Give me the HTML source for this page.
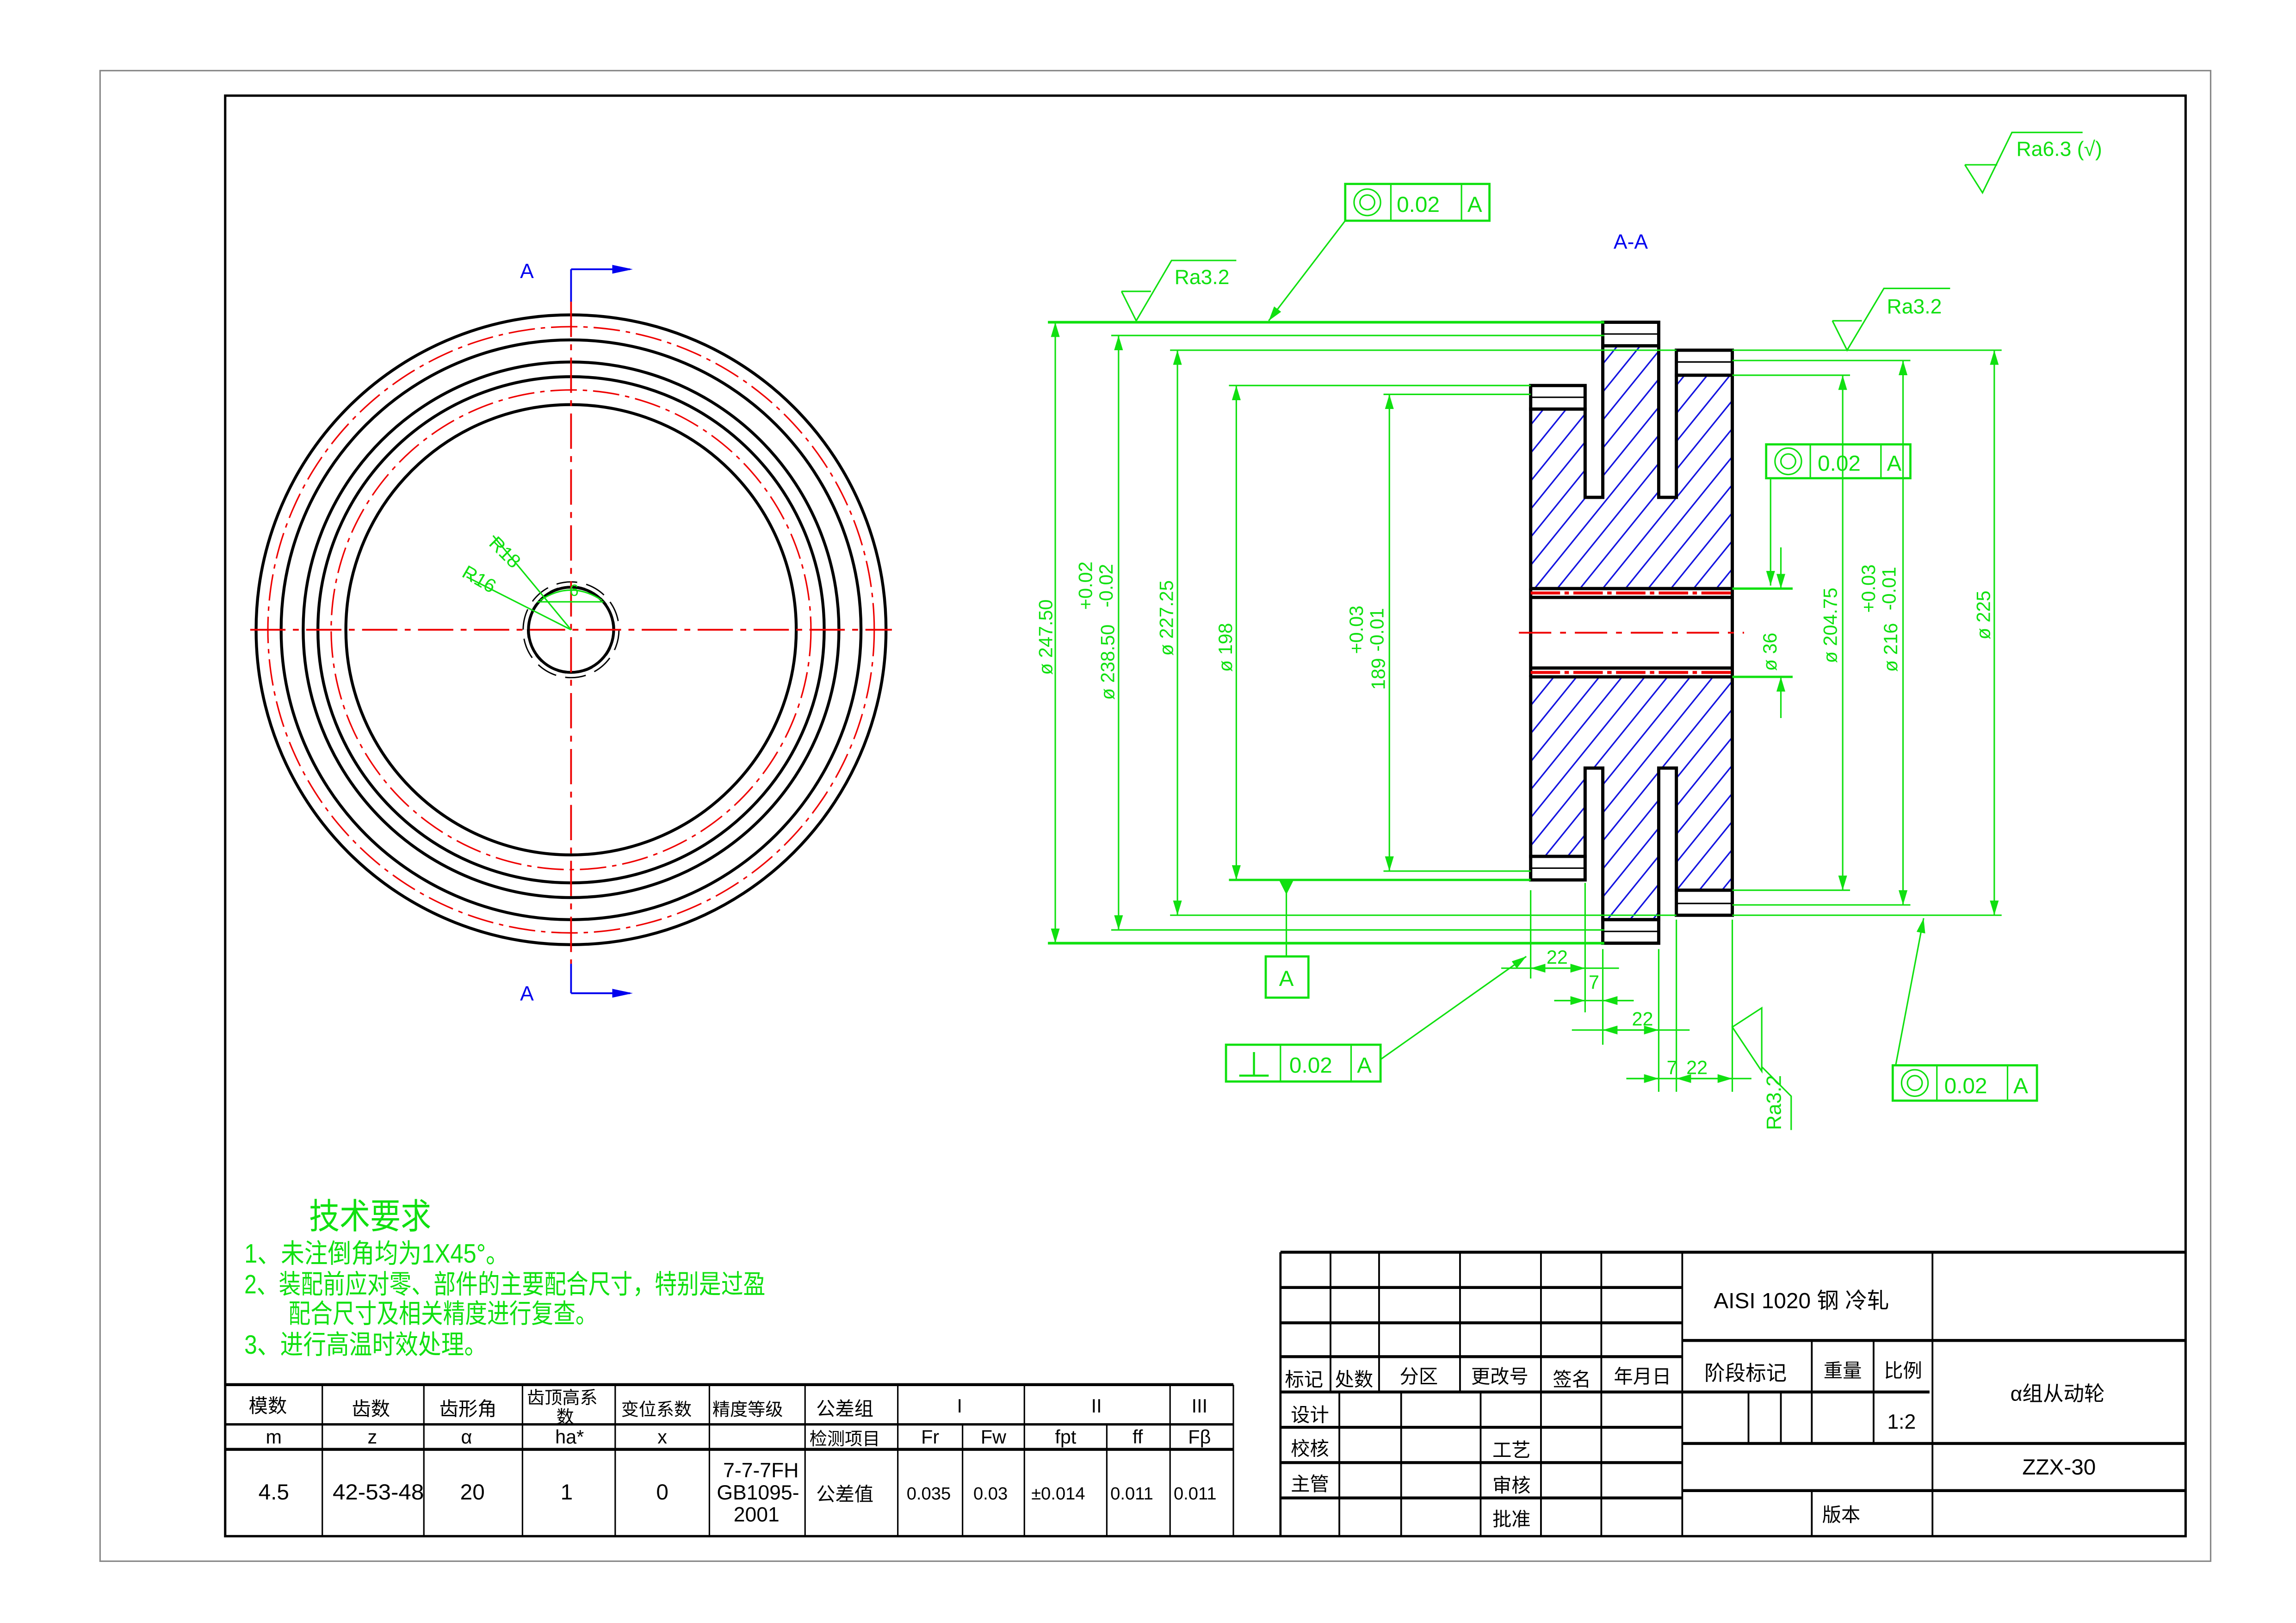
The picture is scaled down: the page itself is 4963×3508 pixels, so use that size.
<!DOCTYPE html>
<html><head><meta charset="utf-8"><style>
html,body{margin:0;padding:0;background:#fff}
svg{display:block}
text{font-family:"Liberation Sans","Noto Sans CJK SC",sans-serif}
</style></head><body>
<svg width="4963" height="3508" viewBox="0 0 1560 1103" preserveAspectRatio="none" xmlns="http://www.w3.org/2000/svg">
<defs>
<marker id="ar" viewBox="0 0 10 6" refX="10" refY="3" markerWidth="10" markerHeight="6" orient="auto-start-reverse" markerUnits="userSpaceOnUse"><path d="M0,0 L10,3 L0,6 Z" fill="#10e010"/></marker>
<pattern id="h" patternUnits="userSpaceOnUse" width="12" height="12" patternTransform="rotate(-51)"><line x1="0" y1="6" x2="12" y2="6" stroke="#1010e0" stroke-width="1"/></pattern>
</defs>
<rect x="68" y="48" width="1434" height="1013" fill="none" stroke="#888" stroke-width="1"/>
<rect x="153" y="65" width="1332" height="979" fill="none" stroke="#000" stroke-width="1.6"/>

<!-- LEFT VIEW -->
<g fill="none">
<circle cx="388" cy="428" r="214" stroke="#000" stroke-width="2"/>
<circle cx="388" cy="428" r="206" stroke="#e00" stroke-width="1" stroke-dasharray="18 4 3 4"/>
<circle cx="388" cy="428" r="197" stroke="#000" stroke-width="2"/>
<circle cx="388" cy="428" r="182" stroke="#000" stroke-width="2"/>
<circle cx="388" cy="428" r="172" stroke="#000" stroke-width="2"/>
<circle cx="388" cy="428" r="163" stroke="#e00" stroke-width="1" stroke-dasharray="18 4 3 4"/>
<circle cx="388" cy="428" r="153" stroke="#000" stroke-width="2"/>
<circle cx="388" cy="428" r="29" stroke="#000" stroke-width="2"/>
<circle cx="388" cy="428" r="31" stroke="#000" stroke-width="4" stroke-dasharray="13.5 6"/>
<circle cx="388" cy="428" r="31" stroke="#fff" stroke-width="2.2" stroke-dasharray="13.5 6"/>
<line x1="170" y1="428" x2="606" y2="428" stroke="#e00" stroke-width="1.2" stroke-dasharray="24 5 4 5"/>
<line x1="388" y1="205" x2="388" y2="655" stroke="#e00" stroke-width="1.2" stroke-dasharray="24 5 4 5"/>
<line x1="388" y1="183" x2="388" y2="205" stroke="#00e" stroke-width="1.2"/>
<line x1="388" y1="183" x2="428" y2="183" stroke="#00e" stroke-width="1.2"/>
<path d="M416,180 L430,183 L416,186Z" fill="#00e"/>
<line x1="388" y1="655" x2="388" y2="675" stroke="#00e" stroke-width="1.2"/>
<line x1="388" y1="675" x2="428" y2="675" stroke="#00e" stroke-width="1.2"/>
<path d="M416,672 L430,675 L416,678Z" fill="#00e"/>
<line x1="317" y1="392" x2="388" y2="428" stroke="#10e010" stroke-width="1"/>
<line x1="335" y1="364" x2="388" y2="428" stroke="#10e010" stroke-width="1"/>
<line x1="365" y1="409" x2="410" y2="409" stroke="#10e010" stroke-width="1"/>
<path d="M367,408 Q388,394 409,408" stroke="#10e010" stroke-width="1"/>
</g>
<text x="358" y="189" font-size="14" fill="#00e" text-anchor="middle">A</text>
<text x="358" y="680" font-size="14" fill="#00e" text-anchor="middle">A</text>
<text x="334" y="376" font-size="13" fill="#10e010" transform="rotate(45 340 370)">R18</text>
<text x="314" y="396" font-size="13" fill="#10e010" transform="rotate(30 322 392)">R16</text>
<text x="387" y="405" font-size="11" fill="#10e010">6</text>

<!-- SECTION VIEW -->
<text x="1108" y="169" font-size="14" fill="#00e" text-anchor="middle">A-A</text>
<g stroke="#000" stroke-width="2.2">
<path d="M1040,278 L1077,278 L1077,338 L1089,338 L1089,235 L1127,235 L1127,338 L1139,338 L1139,255 L1177,255 L1177,400 L1040,400 Z" fill="url(#h)"/>
<path d="M1040,582 L1077,582 L1077,522 L1089,522 L1089,625 L1127,625 L1127,522 L1139,522 L1139,605 L1177,605 L1177,460 L1040,460 Z" fill="url(#h)"/>
<rect x="1040" y="262" width="37" height="16" fill="#fff"/>
<rect x="1089" y="219" width="38" height="16" fill="#fff"/>
<rect x="1139" y="238" width="38" height="17" fill="#fff"/>
<rect x="1040" y="582" width="37" height="16" fill="#fff"/>
<rect x="1089" y="625" width="38" height="16" fill="#fff"/>
<rect x="1139" y="605" width="38" height="17" fill="#fff"/>
<line x1="1040" y1="400" x2="1040" y2="460"/>
<line x1="1177" y1="400" x2="1177" y2="460"/>
<line x1="1040" y1="406" x2="1177" y2="406"/>
<line x1="1040" y1="454" x2="1177" y2="454"/>
</g>
<g stroke-width="1"><line x1="1040" y1="270" x2="1077" y2="270" stroke="#000"/><line x1="1089" y1="227" x2="1127" y2="227" stroke="#000"/><line x1="1139" y1="246" x2="1177" y2="246" stroke="#000"/>
<line x1="1040" y1="590" x2="1077" y2="590" stroke="#000"/><line x1="1089" y1="633" x2="1127" y2="633" stroke="#000"/><line x1="1139" y1="614" x2="1177" y2="614" stroke="#000"/></g>
<line x1="1040" y1="403" x2="1177" y2="403" stroke="#e00" stroke-width="2" stroke-dasharray="20 3 3 3"/>
<line x1="1040" y1="457" x2="1177" y2="457" stroke="#e00" stroke-width="2" stroke-dasharray="20 3 3 3"/>
<line x1="1032" y1="430" x2="1185" y2="430" stroke="#e00" stroke-width="1.2" stroke-dasharray="22 6 4 6"/>

<!-- DIMENSIONS -->
<g stroke="#10e010" stroke-width="1" fill="none">
<line x1="712" y1="219" x2="1090" y2="219" stroke-width="1.8"/>
<line x1="712" y1="641" x2="1090" y2="641" stroke-width="1.8"/>
<line x1="755" y1="228" x2="1090" y2="228"/><line x1="755" y1="632" x2="1090" y2="632"/>
<line x1="795" y1="238" x2="1139" y2="238"/><line x1="795" y1="622" x2="1139" y2="622"/>
<line x1="835" y1="262" x2="1040" y2="262"/><line x1="835" y1="598" x2="1040" y2="598" stroke-width="1.6"/>
<line x1="940" y1="268" x2="1040" y2="268"/><line x1="940" y1="592" x2="1040" y2="592"/>
<line x1="717" y1="219" x2="717" y2="641" marker-start="url(#ar)" marker-end="url(#ar)"/>
<line x1="760" y1="228" x2="760" y2="632" marker-start="url(#ar)" marker-end="url(#ar)"/>
<line x1="800" y1="238" x2="800" y2="622" marker-start="url(#ar)" marker-end="url(#ar)"/>
<line x1="840" y1="262" x2="840" y2="598" marker-start="url(#ar)" marker-end="url(#ar)"/>
<line x1="944" y1="268" x2="944" y2="592" marker-start="url(#ar)" marker-end="url(#ar)"/>
<line x1="1177" y1="238" x2="1360" y2="238"/><line x1="1177" y1="622" x2="1360" y2="622"/>
<line x1="1177" y1="245" x2="1298" y2="245"/><line x1="1177" y1="615" x2="1298" y2="615"/>
<line x1="1177" y1="255" x2="1257" y2="255"/><line x1="1177" y1="605" x2="1257" y2="605"/>
<line x1="1355" y1="238" x2="1355" y2="622" marker-start="url(#ar)" marker-end="url(#ar)"/>
<line x1="1293" y1="245" x2="1293" y2="615" marker-start="url(#ar)" marker-end="url(#ar)"/>
<line x1="1252" y1="255" x2="1252" y2="605" marker-start="url(#ar)" marker-end="url(#ar)"/>
<line x1="1177" y1="400" x2="1218" y2="400" stroke-width="1.6"/><line x1="1177" y1="460" x2="1218" y2="460" stroke-width="1.6"/>
<line x1="1210" y1="372" x2="1210" y2="400" marker-end="url(#ar)"/>
<line x1="1210" y1="488" x2="1210" y2="460" marker-end="url(#ar)"/>
<line x1="1040" y1="605" x2="1040" y2="665"/><line x1="1077" y1="600" x2="1077" y2="688"/>
<line x1="1089" y1="645" x2="1089" y2="710"/><line x1="1127" y1="645" x2="1127" y2="742"/>
<line x1="1139" y1="625" x2="1139" y2="742"/><line x1="1177" y1="625" x2="1177" y2="742"/>
<line x1="1040" y1="658" x2="1077" y2="658" marker-start="url(#ar)" marker-end="url(#ar)"/>
<line x1="1020" y1="658" x2="1100" y2="658"/>
<line x1="1056" y1="680" x2="1077" y2="680" marker-end="url(#ar)"/><line x1="1110" y1="680" x2="1089" y2="680" marker-end="url(#ar)"/>
<line x1="1056" y1="680" x2="1110" y2="680"/>
<line x1="1068" y1="700" x2="1148" y2="700"/>
<line x1="1089" y1="700" x2="1127" y2="700" marker-start="url(#ar)" marker-end="url(#ar)"/>
<line x1="1105" y1="733" x2="1190" y2="733"/>
<line x1="1105" y1="733" x2="1127" y2="733" marker-end="url(#ar)"/>
<line x1="1139" y1="733" x2="1177" y2="733" marker-start="url(#ar)" marker-end="url(#ar)"/>
<line x1="874" y1="600" x2="874" y2="650"/>
<rect x="860" y="650" width="29" height="28" stroke-width="1.5"/>
<rect x="833" y="710" width="105" height="25" stroke-width="1.5"/>
<line x1="870" y1="710" x2="870" y2="735"/><line x1="918" y1="710" x2="918" y2="735"/>
<line x1="852" y1="715" x2="852" y2="731" stroke-width="1.4"/><line x1="842" y1="731" x2="862" y2="731" stroke-width="1.4"/>
<line x1="938" y1="720" x2="1037" y2="650" marker-end="url(#ar)"/>
<rect x="914" y="125" width="98" height="25" stroke-width="1.5"/>
<line x1="945" y1="125" x2="945" y2="150"/><line x1="993" y1="125" x2="993" y2="150"/>
<circle cx="929" cy="137.5" r="9"/><circle cx="929" cy="137.5" r="5"/>
<line x1="914" y1="150" x2="862" y2="218" marker-end="url(#ar)"/>
<rect x="1200" y="302" width="98" height="23" stroke-width="1.5"/>
<line x1="1230" y1="302" x2="1230" y2="325"/><line x1="1278" y1="302" x2="1278" y2="325"/>
<circle cx="1215" cy="313.5" r="9"/><circle cx="1215" cy="313.5" r="5"/>
<line x1="1203" y1="325" x2="1203" y2="398" marker-end="url(#ar)"/>
<rect x="1286" y="724" width="98" height="24" stroke-width="1.5"/>
<line x1="1316" y1="724" x2="1316" y2="748"/><line x1="1364" y1="724" x2="1364" y2="748"/>
<circle cx="1301" cy="736" r="9"/><circle cx="1301" cy="736" r="5"/>
<line x1="1288" y1="724" x2="1307" y2="624" marker-end="url(#ar)"/>
<path d="M762,198 L772,218 L796,177 L840,177"/><line x1="762" y1="198" x2="782" y2="198"/>
<path d="M1245,218 L1255,238 L1280,196 L1325,196"/><line x1="1245" y1="218" x2="1265" y2="218"/>
<path d="M1335,112 L1347,131 L1367,90 L1415,90"/><line x1="1335" y1="112" x2="1357" y2="112"/>
<path d="M1197,685 L1177,698 L1197,728 Z" stroke-width="1"/>
<path d="M1197,725 L1217,745 L1217,768"/>
</g>
<polygon points="869,598 879,598 874,608" fill="#10e010"/>
<g fill="#10e010" font-size="15">
<text x="874" y="670" text-anchor="middle">A</text>
<text x="876" y="729">0.02</text><text x="922" y="729">A</text>
<text x="949" y="144">0.02</text><text x="997" y="144">A</text>
<text x="1235" y="320">0.02</text><text x="1282" y="320">A</text>
<text x="1321" y="743">0.02</text><text x="1368" y="743">A</text>
<text x="798" y="193" font-size="14">Ra3.2</text>
<text x="1282" y="213" font-size="14">Ra3.2</text>
<text x="1370" y="106" font-size="14">Ra6.3 (√)</text>
<text x="1210" y="768" font-size="14" transform="rotate(-90 1210 768)">Ra3.2</text>
<text x="1058" y="655" font-size="13" text-anchor="middle">22</text>
<text x="1083" y="672" font-size="13" text-anchor="middle">7</text>
<text x="1116" y="697" font-size="13" text-anchor="middle">22</text>
<text x="1136" y="730" font-size="13" text-anchor="middle">7</text>
<text x="1153" y="730" font-size="13" text-anchor="middle">22</text>
<g font-size="13">
<text transform="translate(715,433) rotate(-90)" text-anchor="middle">ø 247.50</text>
<text transform="translate(757,450) rotate(-90)" text-anchor="middle">ø 238.50</text>
<text transform="translate(742,398) rotate(-90)" text-anchor="middle">+0.02</text>
<text transform="translate(756,398) rotate(-90)" text-anchor="middle">-0.02</text>
<text transform="translate(797,420) rotate(-90)" text-anchor="middle">ø 227.25</text>
<text transform="translate(837,440) rotate(-90)" text-anchor="middle">ø 198</text>
<text transform="translate(941,458) rotate(-90)" text-anchor="middle">189</text>
<text transform="translate(926,428) rotate(-90)" text-anchor="middle">+0.03</text>
<text transform="translate(940,428) rotate(-90)" text-anchor="middle">-0.01</text>
<text transform="translate(1207,443) rotate(-90)" text-anchor="middle">ø 36</text>
<text transform="translate(1248,425) rotate(-90)" text-anchor="middle">ø 204.75</text>
<text transform="translate(1289,440) rotate(-90)" text-anchor="middle">ø 216</text>
<text transform="translate(1274,400) rotate(-90)" text-anchor="middle">+0.03</text>
<text transform="translate(1288,400) rotate(-90)" text-anchor="middle">-0.01</text>
<text transform="translate(1352,418) rotate(-90)" text-anchor="middle">ø 225</text>
</g>
<text x="210" y="835" font-size="24" textLength="83" lengthAdjust="spacingAndGlyphs">技术要求</text>
<text x="166" y="858" font-size="18" textLength="180" lengthAdjust="spacingAndGlyphs">1、未注倒角均为1X45°。</text>
<text x="166" y="879" font-size="18" textLength="354" lengthAdjust="spacingAndGlyphs">2、装配前应对零、部件的主要配合尺寸，特别是过盈</text>
<text x="196" y="899" font-size="18" textLength="210" lengthAdjust="spacingAndGlyphs">配合尺寸及相关精度进行复查。</text>
<text x="166" y="920" font-size="18" textLength="165" lengthAdjust="spacingAndGlyphs">3、进行高温时效处理。</text>
</g>

<!-- GEAR TABLE -->
<g stroke="#000" fill="none">
<line x1="153" y1="941" x2="838" y2="941" stroke-width="2"/>
<line x1="153" y1="968" x2="838" y2="968" stroke-width="1.6"/>
<line x1="153" y1="985" x2="838" y2="985" stroke-width="2"/>
<g stroke-width="1">
<line x1="219" y1="941" x2="219" y2="1044"/><line x1="288" y1="941" x2="288" y2="1044"/>
<line x1="355" y1="941" x2="355" y2="1044"/><line x1="418" y1="941" x2="418" y2="1044"/>
<line x1="482" y1="941" x2="482" y2="1044"/><line x1="547" y1="941" x2="547" y2="1044"/>
<line x1="610" y1="941" x2="610" y2="1044"/><line x1="654" y1="968" x2="654" y2="1044"/>
<line x1="696" y1="941" x2="696" y2="1044"/><line x1="752" y1="968" x2="752" y2="1044"/>
<line x1="795" y1="941" x2="795" y2="1044"/><line x1="838" y1="941" x2="838" y2="1044"/>
</g>
</g>
<g fill="#000" font-size="13" text-anchor="middle">
<text x="182" y="960">模数</text><text x="252" y="962">齿数</text><text x="318" y="962">齿形角</text>
<text x="382" y="954" font-size="12">齿顶高系</text><text x="384" y="967" font-size="12">数</text>
<text x="446" y="962" font-size="12">变位系数</text><text x="508" y="962" font-size="12">精度等级</text><text x="574" y="962">公差组</text>
<text x="652" y="960">I</text><text x="745" y="960">II</text><text x="815" y="960">III</text>
<text x="186" y="981">m</text><text x="253" y="981">z</text><text x="317" y="981">α</text><text x="387" y="981">ha*</text><text x="450" y="981">x</text>
<text x="574" y="982" font-size="12">检测项目</text><text x="632" y="981">Fr</text><text x="675" y="981">Fw</text><text x="724" y="981">fpt</text><text x="773" y="981">ff</text><text x="815" y="981">Fβ</text>
<text x="186" y="1019" font-size="15">4.5</text><text x="257" y="1019" font-size="15" textLength="62" lengthAdjust="spacingAndGlyphs">42-53-48</text><text x="321" y="1019" font-size="15">20</text>
<text x="385" y="1019" font-size="15">1</text><text x="450" y="1019" font-size="15">0</text>
<text x="517" y="1004" font-size="14">7-7-7FH</text><text x="515" y="1019" font-size="14">GB1095-</text><text x="514" y="1034" font-size="14">2001</text>
<text x="574" y="1020">公差值</text><text x="631" y="1019" font-size="12">0.035</text><text x="673" y="1019" font-size="12">0.03</text><text x="719" y="1019" font-size="12">±0.014</text><text x="769" y="1019" font-size="12">0.011</text><text x="812" y="1019" font-size="12">0.011</text>
</g>

<!-- TITLE BLOCK -->
<g stroke="#000" fill="none">
<line x1="870" y1="851" x2="1485" y2="851" stroke-width="2"/>
<line x1="870" y1="851" x2="870" y2="1044" stroke-width="1.5"/>
<g stroke-width="2"><line x1="870" y1="875" x2="1143" y2="875"/><line x1="870" y1="899" x2="1143" y2="899"/><line x1="870" y1="922" x2="1143" y2="922"/><line x1="870" y1="946" x2="1143" y2="946"/><line x1="870" y1="970" x2="1143" y2="970"/><line x1="870" y1="994" x2="1143" y2="994"/><line x1="870" y1="1018" x2="1143" y2="1018"/>
<line x1="1143" y1="911" x2="1485" y2="911"/><line x1="1143" y1="946" x2="1311" y2="946"/><line x1="1143" y1="981" x2="1485" y2="981"/><line x1="1143" y1="1013" x2="1485" y2="1013"/></g>
<g stroke-width="1.2">
<line x1="904" y1="851" x2="904" y2="946"/><line x1="937" y1="851" x2="937" y2="946"/><line x1="992" y1="851" x2="992" y2="946"/>
<line x1="910" y1="946" x2="910" y2="1044"/><line x1="952" y1="946" x2="952" y2="1044"/><line x1="1006" y1="946" x2="1006" y2="1044"/>
<line x1="1047" y1="851" x2="1047" y2="1044"/><line x1="1088" y1="851" x2="1088" y2="1044"/>
<line x1="1143" y1="851" x2="1143" y2="1044"/><line x1="1313" y1="851" x2="1313" y2="1044"/>
<line x1="1188" y1="946" x2="1188" y2="981"/><line x1="1210" y1="946" x2="1210" y2="981"/>
<line x1="1231" y1="911" x2="1231" y2="981"/><line x1="1231" y1="1013" x2="1231" y2="1044"/><line x1="1273" y1="911" x2="1273" y2="981"/>
<line x1="1485" y1="851" x2="1485" y2="1044"/>
</g>
</g>
<g fill="#000" font-size="13" text-anchor="middle">
<text x="886" y="942">标记</text><text x="920" y="942">处数</text><text x="964" y="940">分区</text><text x="1019" y="940">更改号</text><text x="1068" y="942">签名</text><text x="1116" y="940">年月日</text>
<text x="890" y="966">设计</text><text x="890" y="989">校核</text><text x="890" y="1013">主管</text>
<text x="1027" y="990">工艺</text><text x="1027" y="1014">审核</text><text x="1027" y="1037">批准</text>
<text x="1224" y="889" font-size="15">AISI 1020 钢 冷轧</text>
<text x="1186" y="938" font-size="14">阶段标记</text><text x="1252" y="936">重量</text><text x="1293" y="936">比例</text>
<text x="1292" y="971" font-size="14">1:2</text>
<text x="1398" y="952" font-size="14">α组从动轮</text>
<text x="1399" y="1002" font-size="15">ZZX-30</text>
<text x="1251" y="1034">版本</text>
</g>
</svg>
</body></html>
